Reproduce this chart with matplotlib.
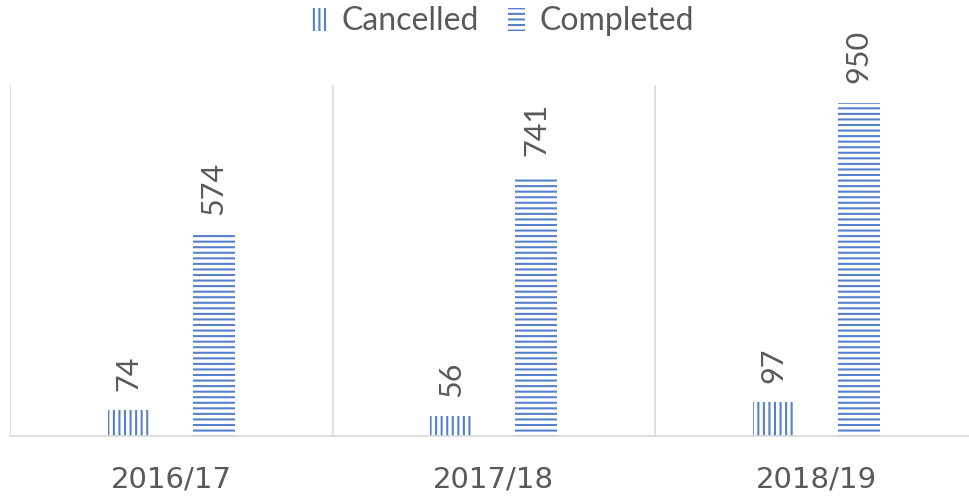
import matplotlib
matplotlib.use("Agg")
import matplotlib.pyplot as plt
import numpy as np
from matplotlib.patches import Patch

categories = ["2016/17", "2017/18", "2018/19"]
cancelled = [74, 56, 97]
completed = [574, 741, 950]

plt.rcParams['font.family'] = ['Lato', 'DejaVu Sans']
plt.rcParams['hatch.linewidth'] = 1.5

BLUE = '#5580CE'
GRAY = '#595959'

fig = plt.figure(figsize=(9.69, 4.96), dpi=100)
ax = fig.add_axes([10/969, 60/496, 967.5/969, 351/496])

x = np.arange(len(categories))
w = 0.13
off = 0.132
b1 = ax.bar(x - off, cancelled, w, facecolor='none', edgecolor=BLUE, linewidth=0, hatch='|||')
b2 = ax.bar(x + off, completed, w, facecolor='none', edgecolor=BLUE, linewidth=0, hatch='---')

for bars, vals in ((b1, cancelled), (b2, completed)):
    for r, v in zip(bars, vals):
        ax.annotate(str(v), (r.get_x() + r.get_width()/2, r.get_height()),
                    xytext=(0, 14), textcoords='offset points', rotation=90,
                    ha='center', va='bottom', fontsize=22, color=GRAY)

ax.set_xlim(-0.5, 2.5)
ax.set_ylim(0, 1000)
for b in [-0.5, 0.5, 1.5, 2.5]:
    ax.axvline(b, color='#D9D9D9', linewidth=1.2, zorder=0)
for s in ['top', 'right', 'left']:
    ax.spines[s].set_visible(False)
ax.spines['bottom'].set_color('#D9D9D9')
ax.spines['bottom'].set_linewidth(1.2)
ax.set_yticks([])
ax.set_xticks(x)
ax.set_xticklabels(categories, fontsize=21, color=GRAY, family=['DejaVu Sans'])
ax.tick_params(axis='x', length=0, pad=21)

handles = [Patch(facecolor='none', edgecolor=BLUE, linewidth=0, hatch='|||', label='Cancelled'),
           Patch(facecolor='none', edgecolor=BLUE, linewidth=0, hatch='---', label='Completed')]
fig.legend(handles=handles, loc='upper center', bbox_to_anchor=(0.518, 1.045), ncol=2,
           frameon=False, fontsize=23, labelcolor=GRAY, handlelength=0.55, handleheight=0.75,
           handletextpad=0.45, columnspacing=0.9)

fig.savefig('out.png', dpi=100)
